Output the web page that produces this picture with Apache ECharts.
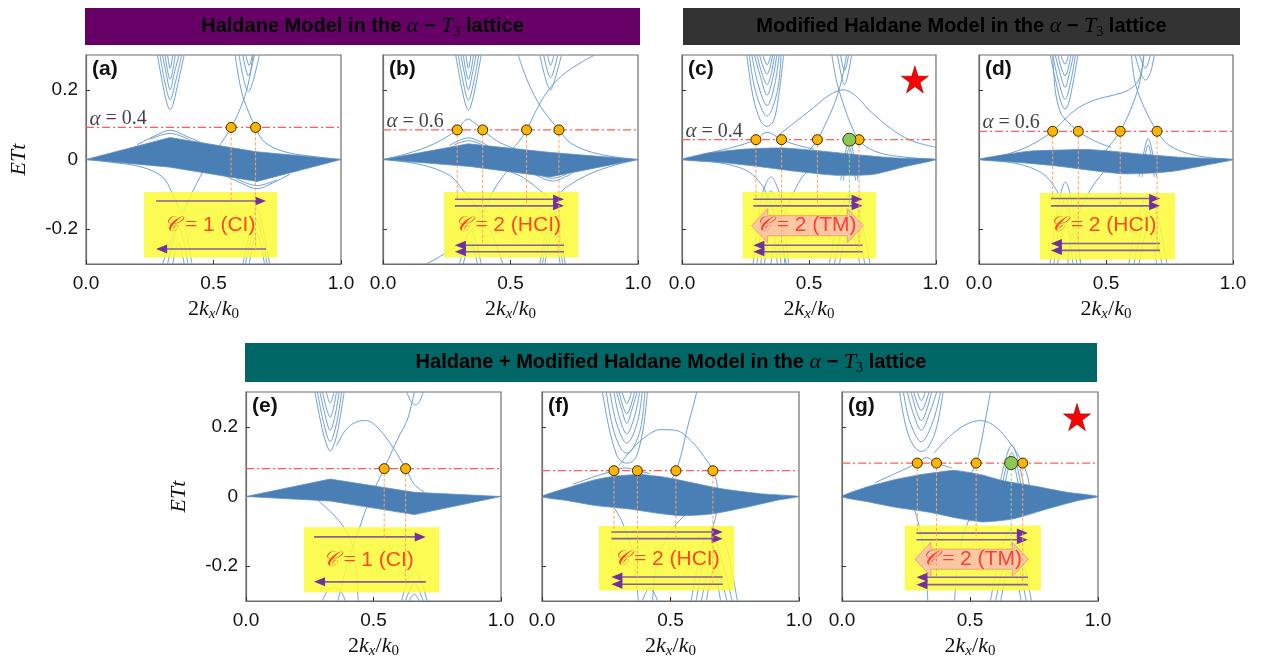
<!DOCTYPE html>
<html>
<head>
<meta charset="utf-8">
<title>alpha-T3 edge states</title>
<script src="https://cdn.jsdelivr.net/npm/echarts@6.0.0/dist/echarts.min.js"></script>
<style>
html, body { margin: 0; padding: 0; background: #fff; }
#main { width: 1270px; height: 667px; }
</style>
</head>
<body>
<div id="main"></div>
<script>
// values: x = 2kx/k0, y = ETt
var xTicks = [0, 0.5, 1];
var yTicks = [-0.2, 0, 0.2];

// ---------- (a) Haldane, alpha = 0.4 ----------
var bandTopA = [[0,0],[0.329,0.063],[0.67,0.022],[1,0]];
var bandBotA = [[0,0],[0.33,-0.022],[0.671,-0.063],[1,0]];
var linesA = [
  [[0.28,0.3],[0.305,0.2],[0.32,0.155],[0.33,0.143],[0.34,0.155],[0.355,0.2],[0.385,0.3]],
  [[0.29,0.3],[0.31,0.22],[0.33,0.172],[0.35,0.22],[0.375,0.3]],
  [[0.30,0.3],[0.315,0.245],[0.33,0.2],[0.345,0.245],[0.365,0.3]],
  [[0.31,0.3],[0.33,0.23],[0.35,0.3]],
  [[0.32,0.3],[0.33,0.262],[0.34,0.3]],
  [[0.60,0.3],[0.62,0.225],[0.637,0.195],[0.655,0.225],[0.68,0.3]],
  [[0.615,0.3],[0.637,0.24],[0.66,0.3]],
  [[0.627,0.3],[0.64,0.27],[0.652,0.3]],
  [[0.72,-0.3],[0.695,-0.2],[0.68,-0.155],[0.67,-0.143],[0.66,-0.155],[0.645,-0.2],[0.615,-0.3]],
  [[0.71,-0.3],[0.69,-0.22],[0.67,-0.172],[0.65,-0.22],[0.625,-0.3]],
  [[0.70,-0.3],[0.67,-0.21],[0.64,-0.3]],
  [[0.40,-0.3],[0.38,-0.225],[0.363,-0.195],[0.345,-0.225],[0.32,-0.3]],
  [[0.385,-0.3],[0.363,-0.24],[0.34,-0.3]],
  [[0.2,0.042],[0.27,0.068],[0.33,0.084],[0.39,0.068],[0.46,0.045]],
  [[0.25,0.058],[0.33,0.075],[0.41,0.055]],
  [[0.8,-0.042],[0.73,-0.068],[0.67,-0.084],[0.61,-0.068],[0.54,-0.045]],
  [[0.75,-0.058],[0.67,-0.075],[0.59,-0.055]],
  [[0.30,-0.3],[0.34,-0.22],[0.40,-0.12],[0.47,-0.02],[0.569,0.092],[0.615,0.165],[0.64,0.23],[0.655,0.3]],
  [[0.585,0.3],[0.60,0.23],[0.62,0.17],[0.665,0.092],[0.70,0.05],[0.78,0.022],[0.9,0.008],[1,0]],
  [[0.415,-0.3],[0.40,-0.23],[0.38,-0.17],[0.335,-0.092],[0.30,-0.05],[0.22,-0.022],[0.1,-0.008],[0,0]]
];
var levelA = 0.092;
var dotsA = [0.569, 0.665];
var dotEndA = [-0.119, -0.257];

// ---------- (b) Haldane, alpha = 0.6 ----------
var bandTopB = [[0,0],[0.335,0.045],[0.66,0.02],[1,0]];
var bandBotB = [[0,0],[0.34,-0.02],[0.655,-0.05],[1,0]];
var linesB = [
  [[0.285,0.3],[0.31,0.2],[0.325,0.155],[0.335,0.142],[0.345,0.155],[0.36,0.2],[0.385,0.3]],
  [[0.295,0.3],[0.315,0.22],[0.335,0.17],[0.355,0.22],[0.375,0.3]],
  [[0.305,0.3],[0.32,0.245],[0.335,0.2],[0.35,0.245],[0.365,0.3]],
  [[0.315,0.3],[0.335,0.23],[0.355,0.3]],
  [[0.325,0.3],[0.335,0.262],[0.345,0.3]],
  [[0.615,0.3],[0.64,0.225],[0.657,0.2],[0.672,0.225],[0.70,0.3]],
  [[0.63,0.3],[0.657,0.235],[0.685,0.3]],
  [[0.645,0.3],[0.657,0.27],[0.67,0.3]],
  [[0.715,-0.3],[0.69,-0.2],[0.675,-0.155],[0.665,-0.142],[0.655,-0.155],[0.64,-0.2],[0.615,-0.3]],
  [[0.705,-0.3],[0.685,-0.22],[0.665,-0.17],[0.645,-0.22],[0.625,-0.3]],
  [[0.695,-0.3],[0.665,-0.21],[0.635,-0.3]],
  [[0.385,-0.3],[0.36,-0.225],[0.343,-0.2],[0.328,-0.225],[0.30,-0.3]],
  [[0.37,-0.3],[0.343,-0.235],[0.315,-0.3]],
  [[0.26,0.04],[0.335,0.062],[0.41,0.04]],
  [[0.28,0.042],[0.335,0.054],[0.39,0.042]],
  [[0.74,-0.04],[0.665,-0.062],[0.59,-0.04]],
  [[0.72,-0.042],[0.665,-0.054],[0.61,-0.042]],
  [[0,0],[0.1,0.018],[0.2,0.045],[0.291,0.085],[0.315,0.107],[0.335,0.116],[0.355,0.107],[0.391,0.085],[0.45,0.052],[0.52,0.03]],
  [[1,0],[0.9,-0.018],[0.8,-0.045],[0.709,-0.085],[0.685,-0.107],[0.665,-0.116],[0.645,-0.107],[0.609,-0.085],[0.55,-0.052],[0.48,-0.03]],
  [[0.45,-0.01],[0.52,0.04],[0.563,0.085],[0.60,0.14],[0.64,0.19],[0.7,0.24],[0.78,0.28],[0.83,0.3]],
  [[0.53,0.3],[0.57,0.22],[0.62,0.15],[0.69,0.085],[0.74,0.045],[0.85,0.015],[1,0]],
  [[0.55,0.01],[0.48,-0.04],[0.437,-0.085],[0.40,-0.14],[0.36,-0.19],[0.3,-0.24],[0.22,-0.28],[0.17,-0.3]],
  [[0.47,-0.3],[0.43,-0.22],[0.38,-0.15],[0.31,-0.085],[0.26,-0.045],[0.15,-0.015],[0,0]]
];
var levelB = 0.085;
var dotsB = [0.291, 0.391, 0.563, 0.69];
var dotEndB = [-0.114, -0.246, -0.133, -0.265];

// ---------- (c) Modified Haldane, alpha = 0.4 ----------
var bandTopC = [[0,0],[0.1,0.018],[0.25,0.03],[0.4,0.033],[0.55,0.024],[0.7,0.013],[0.85,0.004],[1,0]];
var bandBotC = [[0,0],[0.15,-0.008],[0.3,-0.02],[0.45,-0.034],[0.6,-0.045],[0.75,-0.043],[0.88,-0.02],[1,0]];
var linesC = [
  [[0.255,0.3],[0.28,0.18],[0.31,0.11],[0.335,0.095],[0.36,0.11],[0.38,0.18],[0.40,0.3]],
  [[0.265,0.3],[0.29,0.195],[0.335,0.125],[0.375,0.195],[0.39,0.3]],
  [[0.275,0.3],[0.30,0.215],[0.335,0.155],[0.365,0.215],[0.382,0.3]],
  [[0.285,0.3],[0.31,0.235],[0.335,0.185],[0.358,0.235],[0.373,0.3]],
  [[0.295,0.3],[0.335,0.215],[0.365,0.3]],
  [[0.305,0.3],[0.335,0.245],[0.357,0.3]],
  [[0.318,0.3],[0.335,0.272],[0.35,0.3]],
  [[0.612,0.3],[0.628,0.24],[0.64,0.215],[0.652,0.24],[0.668,0.3]],
  [[0.624,0.3],[0.64,0.255],[0.656,0.3]],
  [[0.08,0.015],[0.2,0.035],[0.291,0.057],[0.335,0.078],[0.392,0.057],[0.45,0.042],[0.52,0.03]],
  [[0.38,0.07],[0.45,0.11],[0.52,0.15],[0.58,0.185],[0.635,0.2],[0.68,0.185],[0.74,0.14],[0.82,0.09],[0.9,0.055],[1,0.035]],
  [[0.45,-0.01],[0.5,0.025],[0.533,0.057],[0.57,0.11],[0.6,0.16],[0.622,0.21],[0.638,0.26],[0.648,0.3]],
  [[0.59,0.3],[0.61,0.22],[0.635,0.16],[0.665,0.1],[0.697,0.057],[0.74,0.03],[0.82,0.012],[1,0]],
  [[0.625,-0.06],[0.645,0.025],[0.659,0.058],[0.673,0.025],[0.693,-0.06]],
  [[0.635,-0.06],[0.659,0.035],[0.683,-0.06]],
  [[0.28,-0.3],[0.31,-0.12],[0.33,-0.07],[0.35,-0.05],[0.37,-0.07],[0.39,-0.12],[0.42,-0.3]],
  [[0.295,-0.3],[0.32,-0.16],[0.35,-0.09],[0.38,-0.16],[0.405,-0.3]],
  [[0.31,-0.3],[0.35,-0.13],[0.39,-0.3]],
  [[0.325,-0.3],[0.35,-0.17],[0.375,-0.3]],
  [[0.58,-0.3],[0.62,-0.16],[0.66,-0.1],[0.70,-0.16],[0.74,-0.3]],
  [[0.60,-0.3],[0.63,-0.2],[0.66,-0.145],[0.69,-0.2],[0.72,-0.3]],
  [[0.62,-0.3],[0.66,-0.19],[0.70,-0.3]],
  [[0.55,0.0],[0.5,-0.03],[0.467,-0.057],[0.43,-0.11],[0.4,-0.16],[0.375,-0.2],[0.36,-0.25],[0.35,-0.3]],
  [[0.41,-0.3],[0.39,-0.22],[0.365,-0.16],[0.335,-0.1],[0.30,-0.06],[0.25,-0.03],[0.15,-0.01],[0,0]]
];
var levelC = 0.057;
var dotsC = [0.291, 0.392, 0.533, 0.697];
var dotEndC = [-0.114, -0.246, -0.133, -0.265];
var greenC = [0.659];
var greenEndC = [-0.17];

// ---------- (d) Modified Haldane, alpha = 0.6 ----------
var bandTopD = [[0,0],[0.1,0.014],[0.2,0.024],[0.31,0.027],[0.42,0.029],[0.52,0.024],[0.63,0.016],[0.8,0.006],[1,0]];
var bandBotD = [[0,0],[0.15,-0.008],[0.3,-0.018],[0.45,-0.032],[0.57,-0.041],[0.68,-0.039],[0.78,-0.032],[0.9,-0.015],[1,0]];
var linesD = [
  [[0.28,0.3],[0.31,0.2],[0.325,0.16],[0.339,0.145],[0.352,0.16],[0.365,0.2],[0.39,0.3]],
  [[0.29,0.3],[0.315,0.22],[0.339,0.173],[0.36,0.22],[0.38,0.3]],
  [[0.30,0.3],[0.32,0.245],[0.339,0.207],[0.355,0.245],[0.372,0.3]],
  [[0.31,0.3],[0.339,0.24],[0.362,0.3]],
  [[0.322,0.3],[0.339,0.273],[0.352,0.3]],
  [[0.615,0.3],[0.635,0.25],[0.655,0.228],[0.675,0.25],[0.69,0.3]],
  [[0.632,0.3],[0.655,0.262],[0.675,0.3]],
  [[0,0],[0.1,0.013],[0.2,0.04],[0.29,0.081],[0.339,0.116],[0.39,0.148],[0.46,0.172],[0.53,0.185],[0.59,0.2],[0.63,0.23],[0.65,0.3]],
  [[0.29,0.3],[0.3,0.2],[0.318,0.14],[0.339,0.116],[0.391,0.081],[0.45,0.055],[0.52,0.035]],
  [[0.47,0.0],[0.52,0.045],[0.556,0.081],[0.595,0.14],[0.625,0.2],[0.64,0.25],[0.648,0.3]],
  [[0.6,0.3],[0.615,0.22],[0.65,0.15],[0.701,0.081],[0.75,0.04],[0.85,0.012],[1,0]],
  [[0.63,-0.05],[0.652,0.03],[0.666,0.06],[0.68,0.03],[0.70,-0.05]],
  [[0.642,-0.05],[0.666,0.042],[0.69,-0.05]],
  [[0.28,-0.3],[0.31,-0.14],[0.34,-0.065],[0.37,-0.14],[0.40,-0.3]],
  [[0.295,-0.3],[0.34,-0.11],[0.385,-0.3]],
  [[0.31,-0.3],[0.34,-0.16],[0.37,-0.3]],
  [[0.59,-0.3],[0.625,-0.17],[0.665,-0.1],[0.705,-0.17],[0.74,-0.3]],
  [[0.61,-0.3],[0.665,-0.15],[0.72,-0.3]],
  [[0.63,-0.3],[0.665,-0.2],[0.70,-0.3]],
  [[0.53,0.0],[0.48,-0.045],[0.444,-0.081],[0.4,-0.14],[0.37,-0.2],[0.355,-0.26],[0.35,-0.3]],
  [[0.40,-0.3],[0.385,-0.22],[0.35,-0.15],[0.299,-0.081],[0.25,-0.04],[0.15,-0.012],[0,0]]
];
var levelD = 0.081;
var dotsD = [0.29, 0.391, 0.556, 0.701];
var dotEndD = [-0.112, -0.241, -0.133, -0.261];

// ---------- (e) Haldane + Modified Haldane, C = 1 ----------
var bandTopE = [[0,0],[0.33,0.05],[0.66,0.012],[1,0]];
var bandBotE = [[0,0],[0.33,-0.013],[0.66,-0.052],[1,0]];
var linesE = [
  [[0.27,0.3],[0.30,0.19],[0.318,0.145],[0.33,0.131],[0.343,0.145],[0.36,0.19],[0.385,0.3]],
  [[0.28,0.3],[0.305,0.21],[0.33,0.158],[0.355,0.21],[0.375,0.3]],
  [[0.29,0.3],[0.31,0.235],[0.33,0.19],[0.35,0.235],[0.365,0.3]],
  [[0.30,0.3],[0.33,0.228],[0.355,0.3]],
  [[0.315,0.3],[0.33,0.268],[0.345,0.3]],
  [[0.63,0.3],[0.648,0.272],[0.665,0.263],[0.68,0.272],[0.695,0.3]],
  [[0.355,0.145],[0.39,0.19],[0.43,0.213],[0.47,0.218],[0.52,0.195],[0.578,0.139],[0.626,0.08],[0.66,0.035],[0.7,0.012]],
  [[0.36,-0.3],[0.395,-0.2],[0.44,-0.1],[0.49,0.0],[0.542,0.08],[0.578,0.139],[0.605,0.18],[0.63,0.215],[0.648,0.26],[0.66,0.3]],
  [[0.28,-0.01],[0.34,-0.05],[0.385,-0.09],[0.414,-0.132],[0.43,-0.2],[0.44,-0.3]],
  [[0.30,-0.3],[0.32,-0.27],[0.345,-0.262],[0.37,-0.27],[0.39,-0.3]],
  [[0.61,-0.3],[0.635,-0.24],[0.66,-0.215],[0.685,-0.24],[0.71,-0.3]],
  [[0.625,-0.3],[0.66,-0.25],[0.695,-0.3]],
  [[0.64,-0.3],[0.66,-0.28],[0.68,-0.3]]
];
var levelE = 0.08;
var dotsE = [0.542, 0.626];
var dotEndE = [-0.116, -0.245];

// ---------- (f) Haldane + Modified Haldane, C = 2 (HCI) ----------
var bandTopF = [[0,0],[0.1,0.025],[0.2,0.047],[0.28,0.058],[0.38,0.063],[0.48,0.055],[0.58,0.04],[0.7,0.022],[0.85,0.008],[1,0]];
var bandBotF = [[0,0],[0.1,-0.012],[0.21,-0.026],[0.34,-0.036],[0.45,-0.048],[0.54,-0.055],[0.66,-0.05],[0.8,-0.03],[0.92,-0.01],[1,0]];
var linesF = [
  [[0.235,0.3],[0.26,0.2],[0.29,0.12],[0.31,0.1],[0.33,0.096],[0.35,0.1],[0.37,0.12],[0.395,0.2],[0.41,0.3]],
  [[0.25,0.3],[0.275,0.2],[0.305,0.14],[0.33,0.124],[0.355,0.14],[0.385,0.2],[0.4,0.3]],
  [[0.265,0.3],[0.29,0.21],[0.33,0.153],[0.37,0.21],[0.39,0.3]],
  [[0.28,0.3],[0.3,0.23],[0.33,0.18],[0.36,0.23],[0.38,0.3]],
  [[0.29,0.3],[0.31,0.25],[0.33,0.21],[0.35,0.25],[0.37,0.3]],
  [[0.30,0.3],[0.33,0.237],[0.36,0.3]],
  [[0.312,0.3],[0.33,0.266],[0.348,0.3]],
  [[0.12,0.035],[0.2,0.056],[0.28,0.074],[0.325,0.082],[0.371,0.074],[0.42,0.066]],
  [[0.30,0.09],[0.35,0.135],[0.40,0.17],[0.46,0.192],[0.52,0.19],[0.58,0.16],[0.63,0.115],[0.665,0.074],[0.683,0.02],[0.68,-0.04],[0.667,-0.083]],
  [[0.42,-0.03],[0.48,0.02],[0.521,0.074],[0.545,0.13],[0.563,0.19],[0.585,0.25],[0.602,0.3]],
  [[0.58,-0.3],[0.62,-0.15],[0.648,-0.098],[0.667,-0.085],[0.686,-0.098],[0.72,-0.15],[0.76,-0.3]],
  [[0.60,-0.3],[0.63,-0.185],[0.667,-0.12],[0.70,-0.185],[0.74,-0.3]],
  [[0.62,-0.3],[0.645,-0.215],[0.667,-0.16],[0.69,-0.215],[0.72,-0.3]],
  [[0.64,-0.3],[0.667,-0.21],[0.695,-0.3]],
  [[0.39,-0.3],[0.42,-0.262],[0.45,-0.3]],
  [[0.27,-0.02],[0.31,-0.07],[0.34,-0.13],[0.36,-0.2],[0.375,-0.3]],
  [[0.56,-0.05],[0.5,-0.1],[0.46,-0.16],[0.44,-0.22],[0.43,-0.3]]
];
var levelF = 0.074;
var dotsF = [0.28, 0.371, 0.521, 0.665];
var dotEndF = [-0.102, -0.231, -0.121, -0.252];

// ---------- (g) Haldane + Modified Haldane, C = 2 (TM) ----------
var bandTopG = [[0,0],[0.1,0.028],[0.21,0.049],[0.3,0.062],[0.38,0.07],[0.44,0.075],[0.54,0.063],[0.63,0.045],[0.75,0.03],[0.88,0.012],[1,0]];
var bandBotG = [[0,0],[0.1,-0.015],[0.21,-0.031],[0.34,-0.045],[0.45,-0.062],[0.55,-0.073],[0.67,-0.064],[0.8,-0.036],[0.92,-0.012],[1,0]];
var linesG = [
  [[0.225,0.3],[0.25,0.2],[0.28,0.145],[0.31,0.129],[0.34,0.145],[0.37,0.2],[0.395,0.3]],
  [[0.24,0.3],[0.265,0.215],[0.31,0.157],[0.355,0.215],[0.385,0.3]],
  [[0.255,0.3],[0.28,0.235],[0.31,0.19],[0.34,0.235],[0.37,0.3]],
  [[0.27,0.3],[0.31,0.218],[0.35,0.3]],
  [[0.28,0.3],[0.31,0.247],[0.34,0.3]],
  [[0.295,0.3],[0.31,0.275],[0.325,0.3]],
  [[0.13,0.04],[0.22,0.07],[0.294,0.096],[0.33,0.112],[0.369,0.096],[0.43,0.082]],
  [[0.36,0.125],[0.42,0.172],[0.48,0.205],[0.54,0.218],[0.6,0.2],[0.66,0.15],[0.706,0.096],[0.73,0.04],[0.735,-0.02]],
  [[0.44,0.02],[0.49,0.05],[0.524,0.096],[0.545,0.16],[0.565,0.24],[0.58,0.3]],
  [[0.615,0.03],[0.64,0.11],[0.663,0.147],[0.686,0.11],[0.71,0.03]],
  [[0.625,0.03],[0.645,0.095],[0.663,0.125],[0.681,0.095],[0.70,0.03]],
  [[0.635,0.03],[0.663,0.105],[0.69,0.03]],
  [[0.58,-0.3],[0.62,-0.16],[0.66,-0.095],[0.70,-0.16],[0.74,-0.3]],
  [[0.60,-0.3],[0.63,-0.2],[0.66,-0.14],[0.69,-0.2],[0.72,-0.3]],
  [[0.62,-0.3],[0.66,-0.19],[0.70,-0.3]],
  [[0.28,-0.03],[0.3,-0.08],[0.32,-0.15],[0.33,-0.22],[0.335,-0.3]],
  [[0.5,-0.06],[0.47,-0.12],[0.45,-0.2],[0.44,-0.3]]
];
var levelG = 0.096;
var dotsG = [0.294, 0.369, 0.524, 0.706];
var dotEndG = [-0.105, -0.232, -0.124, -0.253];
var greenG = [0.661];
var greenEndG = [-0.177];

// ---------- layout of the seven panels ----------
var panels = [
  {tag:'(a)', rect:[86,55,255,209], top:bandTopA, bot:bandBotA, lines:linesA, level:levelA, dots:dotsA, ends:dotEndA,
   box:[0.227,-0.093,0.75,-0.281], arrowX:[0.275,0.706], right:[-0.119], left:[-0.257],
   text:'1 (CI)', textAt:[0.486,-0.19], alpha:'0.4', showY:true, sharp:true},
  {tag:'(b)', rect:[383,55,255,209], top:bandTopB, bot:bandBotB, lines:linesB, level:levelB, dots:dotsB, ends:dotEndB,
   box:[0.239,-0.093,0.766,-0.281], arrowX:[0.282,0.71], right:[-0.114,-0.133], left:[-0.246,-0.265],
   text:'2 (HCI)', textAt:[0.49,-0.19], alpha:'0.6', sharp:true},
  {tag:'(c)', rect:[682,55,254,209], top:bandTopC, bot:bandBotC, lines:linesC, level:levelC, dots:dotsC, ends:dotEndC,
   green:greenC, greenEnd:greenEndC,
   box:[0.239,-0.093,0.764,-0.284], arrowX:[0.281,0.711], right:[-0.114,-0.133], left:[-0.246,-0.265],
   text:'2 (TM)', textAt:[0.49,-0.19], tm:[0.274,0.714,-0.19], alpha:'0.4', star:[0.917,0.23]},
  {tag:'(d)', rect:[979,55,254,209], top:bandTopD, bot:bandBotD, lines:linesD, level:levelD, dots:dotsD, ends:dotEndD,
   box:[0.24,-0.096,0.772,-0.287], arrowX:[0.283,0.713], right:[-0.112,-0.133], left:[-0.241,-0.261],
   text:'2 (HCI)', textAt:[0.49,-0.19], alpha:'0.6'},
  {tag:'(e)', rect:[246,392,255,209], top:bandTopE, bot:bandBotE, lines:linesE, level:levelE, dots:dotsE, ends:dotEndE,
   box:[0.227,-0.088,0.758,-0.275], arrowX:[0.267,0.705], right:[-0.116], left:[-0.245],
   text:'1 (CI)', textAt:[0.48,-0.183], showY:true, sharp:true},
  {tag:'(f)', rect:[542,392,257,209], top:bandTopF, bot:bandBotF, lines:linesF, level:levelF, dots:dotsF, ends:dotEndF,
   box:[0.222,-0.085,0.748,-0.27], arrowX:[0.27,0.703], right:[-0.102,-0.121], left:[-0.231,-0.252],
   text:'2 (HCI)', textAt:[0.485,-0.18]},
  {tag:'(g)', rect:[842,392,256,209], top:bandTopG, bot:bandBotG, lines:linesG, level:levelG, dots:dotsG, ends:dotEndG,
   green:greenG, greenEnd:greenEndG,
   box:[0.245,-0.083,0.777,-0.27], arrowX:[0.291,0.726], right:[-0.105,-0.124], left:[-0.232,-0.253],
   text:'2 (TM)', textAt:[0.507,-0.18], tm:[0.285,0.728,-0.18], star:[0.918,0.228]}
];

var LINE = '#6f9fd2', BAND = '#4a7fb6', YELLOW = '#fbfb3c', AXIS = '#6d6d6d';
var SERIF = "'Liberation Serif', 'DejaVu Serif', serif";
var SANS = "'Liberation Sans', Arial, sans-serif";

var mathRich = {
  n: {fontFamily: SERIF, fontSize: 22, color: '#111', lineHeight: 26},
  i: {fontFamily: SERIF, fontStyle: 'italic', fontSize: 22, color: '#111', lineHeight: 26},
  s: {fontFamily: SERIF, fontStyle: 'italic', fontSize: 15, color: '#111', lineHeight: 26, verticalAlign: 'bottom'},
  z: {fontFamily: SERIF, fontSize: 15, color: '#111', lineHeight: 26, verticalAlign: 'bottom'}
};
var boxRich = {
  c: {fontFamily: "'DejaVu Serif', serif", fontStyle: 'italic', fontSize: 21, color: '#ff1a1a'},
  m: {fontFamily: SERIF, fontSize: 22, color: '#ff1a1a'},
  n: {fontFamily: SANS, fontSize: 21, color: '#ff1a1a'}
};
var alphaRich = {
  a: {fontFamily: SERIF, fontStyle: 'italic', fontSize: 21, color: '#111'},
  m: {fontFamily: SERIF, fontSize: 20, color: '#111'}
};
var bannerRich = {
  b: {fontFamily: SANS, fontWeight: 'bold', fontSize: 20, color: '#fff', lineHeight: 26},
  i: {fontFamily: SERIF, fontStyle: 'italic', fontSize: 22, color: '#fff', lineHeight: 26},
  s: {fontFamily: SERIF, fontSize: 14, color: '#fff', lineHeight: 26, verticalAlign: 'bottom'}
};

var chart = echarts.init(document.getElementById('main'));
var grids = [], xAxes = [], yAxes = [], series = [], graphics = [];

function onAxes(i, s) { s.xAxisIndex = i; s.yAxisIndex = i; s.silent = true; return s; }

panels.forEach(function (p, i) {
  grids.push({left: p.rect[0], top: p.rect[1], width: p.rect[2], height: p.rect[3],
    show: true, borderColor: AXIS, borderWidth: 1.2, containLabel: false});
  xAxes.push({
    gridIndex: i, type: 'value', min: xTicks[0], max: xTicks[2], interval: 0.5,
    axisLine: {show: true, onZero: false, lineStyle: {color: AXIS, width: 1.2}},
    axisTick: {show: true, inside: true, length: 4, lineStyle: {color: '#333'}},
    axisLabel: {color: '#111', fontSize: 19, fontFamily: SANS, margin: 10,
      formatter: function (v) { return v.toFixed(1); }},
    splitLine: {show: false},
    name: '{n|2}{i|k}{s|x}{n|/}{i|k}{z|0}', nameLocation: 'middle', nameGap: 32,
    nameTextStyle: {rich: mathRich}
  });
  yAxes.push({
    gridIndex: i, type: 'value', min: -0.3, max: 0.3, interval: 0.1,
    axisLine: {show: true, onZero: false, lineStyle: {color: AXIS, width: 1.2}},
    axisTick: {show: true, inside: true, length: 4, customValues: yTicks, lineStyle: {color: '#333'}},
    axisLabel: {show: !!p.showY, customValues: yTicks, color: '#111', fontSize: 19, fontFamily: SANS, margin: 8,
      formatter: function (v) { return v === 0 ? '0' : String(v); }},
    splitLine: {show: false},
    name: p.showY ? 'ETt' : '', nameLocation: 'middle', nameRotate: 90, nameGap: 56,
    nameTextStyle: {fontFamily: SERIF, fontStyle: 'italic', fontSize: 22, color: '#111'}
  });

  // thin bands and edge states
  p.lines.forEach(function (c) {
    series.push(onAxes(i, {type: 'line', data: c, smooth: 0.35, symbol: 'none',
      lineStyle: {color: LINE, width: 1}, z: 1}));
  });
  // dense bulk band
  series.push(onAxes(i, {type: 'custom', coordinateSystem: 'cartesian2d', data: [[0, 0]], z: 2,
    renderItem: function (params, api) {
      var pts = p.top.concat(p.bot.slice(1, -1).reverse()).map(function (q) { return api.coord(q); });
      return {type: 'polygon', shape: {points: pts, smooth: p.sharp ? 0 : 0.2},
        style: {fill: BAND, stroke: '#5d91c6', lineWidth: 0.8}};
    }}));
  // Fermi level
  series.push(onAxes(i, {type: 'line', data: [[0, p.level], [1, p.level]], symbol: 'none',
    lineStyle: {color: '#ff5c5c', width: 1.2, type: [8, 3, 2, 3]}, z: 3}));
  // yellow box
  series.push(onAxes(i, {type: 'custom', coordinateSystem: 'cartesian2d', data: [p.box], z: 4,
    renderItem: function (params, api) {
      var a = api.coord([api.value(0), api.value(1)]), b = api.coord([api.value(2), api.value(3)]);
      return {type: 'rect', shape: {x: a[0], y: a[1], width: b[0] - a[0], height: b[1] - a[1]},
        style: {fill: YELLOW, opacity: 0.88}};
    }}));
  // TM double arrow
  if (p.tm) {
    series.push(onAxes(i, {type: 'custom', coordinateSystem: 'cartesian2d', data: [p.tm], z: 5,
      renderItem: function (params, api) {
        var a = api.coord([api.value(0), api.value(2)]), b = api.coord([api.value(1), api.value(2)]);
        var y = a[1], h = 10, H = 17, L = 16;
        var pts = [[a[0], y], [a[0] + L, y - H], [a[0] + L, y - h], [b[0] - L, y - h], [b[0] - L, y - H],
          [b[0], y], [b[0] - L, y + H], [b[0] - L, y + h], [a[0] + L, y + h], [a[0] + L, y + H]];
        return {type: 'polygon', shape: {points: pts}, style: {fill: '#fcc8a4', stroke: '#f3a26a', lineWidth: 1}};
      }}));
  }
  // dashed drop lines
  p.dots.forEach(function (x, j) {
    series.push(onAxes(i, {type: 'line', data: [[x, p.level], [x, p.ends[j]]], symbol: 'none',
      lineStyle: {color: '#ffa25e', width: 1, type: [3, 2]}, z: 6}));
  });
  if (p.green) {
    p.green.forEach(function (x, j) {
      series.push(onAxes(i, {type: 'line', data: [[x, p.level], [x, p.greenEnd[j]]], symbol: 'none',
        lineStyle: {color: '#8fd88f', width: 1, type: [3, 2]}, z: 6}));
    });
  }
  // chiral arrows
  var arrows = p.right.map(function (y) { return [p.arrowX[0], p.arrowX[1], y, 1]; })
    .concat(p.left.map(function (y) { return [p.arrowX[0], p.arrowX[1], y, -1]; }));
  series.push(onAxes(i, {type: 'custom', coordinateSystem: 'cartesian2d', data: arrows, z: 6,
    renderItem: function (params, api) {
      var a = api.coord([api.value(0), api.value(2)]), b = api.coord([api.value(1), api.value(2)]);
      var s = api.value(3) > 0 ? 1 : -1;
      var tip = s > 0 ? b : a, tail = s > 0 ? a : b;
      return {type: 'group', children: [
        {type: 'line', shape: {x1: tail[0], y1: tail[1], x2: tip[0] - s * 6, y2: tip[1]},
          style: {stroke: '#80609f', lineWidth: 1.6}},
        {type: 'polygon', shape: {points: [[tip[0], tip[1]], [tip[0] - s * 11, tip[1] - 4.5], [tip[0] - s * 11, tip[1] + 4.5]]},
          style: {fill: '#7030a0'}}
      ]};
    }}));
  // crossing points
  series.push(onAxes(i, {type: 'scatter', data: p.dots.map(function (x) { return [x, p.level]; }),
    symbolSize: 10, itemStyle: {color: '#ffb400', borderColor: '#3a2a00', borderWidth: 1, opacity: 1}, z: 7}));
  if (p.green) {
    series.push(onAxes(i, {type: 'scatter', data: p.green.map(function (x) { return [x, p.level]; }),
      symbolSize: 13, itemStyle: {color: '#8bc94f', borderColor: '#2e3a20', borderWidth: 1, opacity: 1}, z: 7}));
  }
  // Chern number text
  series.push(onAxes(i, {type: 'scatter', data: [p.textAt], symbolSize: 1, itemStyle: {color: 'transparent'}, z: 8,
    label: {show: true, position: 'inside', formatter: '{c|\uD835\uDC9E}{m| = }{n|' + p.text + '}', rich: boxRich}}));
  // alpha label
  if (p.alpha) {
    series.push(onAxes(i, {type: 'scatter', data: [[0.012, p.level + 0.024]], symbolSize: 1,
      itemStyle: {color: 'transparent'}, z: 8,
      label: {show: true, position: 'right', distance: 0, formatter: '{a|\u03b1}{m| = ' + p.alpha + '}', rich: alphaRich}}));
  }
  if (p.star) {
    series.push(onAxes(i, {type: 'scatter', data: [p.star], symbolSize: 27,
      symbol: 'path://M50 0L61.2 34.5L97.6 34.5L68.2 55.9L79.4 90.4L50 69.1L20.6 90.4L31.8 55.9L2.4 34.5L38.8 34.5Z',
      itemStyle: {color: '#ff0000', borderColor: '#8a0000', borderWidth: 0.6, opacity: 1}, z: 8}));
  }
  graphics.push({type: 'text', x: p.rect[0] + 6, y: p.rect[1] + 4, z: 100,
    style: {text: p.tag, font: 'bold 21px ' + SANS, fill: '#111'}});
});

// banners
var banners = [
  {x: 85, y: 8, w: 555, h: 37, color: '#660066', text: '{b|Haldane Model in the }{i|\u03b1}{b| \u2212 }{i|T}{s|3}{b| lattice}'},
  {x: 683, y: 8, w: 557, h: 37, color: '#333333', text: '{b|Modified Haldane Model in the }{i|\u03b1}{b| \u2212 }{i|T}{s|3}{b| lattice}'},
  {x: 245, y: 343, w: 852, h: 39, color: '#006666', text: '{b|Haldane + Modified Haldane Model in the }{i|\u03b1}{b| \u2212 }{i|T}{s|3}{b| lattice}'}
];
banners.forEach(function (b) {
  graphics.push({type: 'rect', shape: {x: b.x, y: b.y, width: b.w, height: b.h}, style: {fill: b.color}, z: 100});
  graphics.push({type: 'text', x: b.x + b.w / 2, y: b.y + b.h / 2, z: 101,
    style: {text: b.text, rich: bannerRich, align: 'center', verticalAlign: 'middle',
      textAlign: 'center', textVerticalAlign: 'middle'}});
});

chart.setOption({
  animation: false,
  backgroundColor: '#fff',
  grid: grids,
  xAxis: xAxes,
  yAxis: yAxes,
  series: series,
  graphic: graphics
});
</script>
</body>
</html>
